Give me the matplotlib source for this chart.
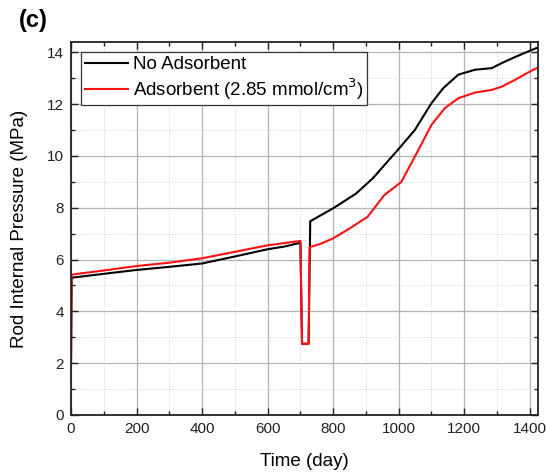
import matplotlib
matplotlib.use("Agg")
import matplotlib.pyplot as plt
from matplotlib.ticker import MultipleLocator

plt.rcParams["font.family"] = ["Liberation Sans", "DejaVu Sans"]

# time (day) and rod internal pressure (MPa)
days_no_ads = [0, 2, 100, 200, 300, 400, 500, 600, 650, 700, 705, 725, 730,
               800, 870, 921, 997, 1049, 1100, 1136, 1182, 1233, 1284, 1315,
               1355, 1396, 1427]
press_no_ads = [2.0, 5.30, 5.45, 5.60, 5.72, 5.85, 6.12, 6.40, 6.50, 6.65,
                2.75, 2.75, 7.48, 7.98, 8.55, 9.14, 10.23, 11.0, 12.04, 12.62,
                13.14, 13.33, 13.39, 13.59, 13.82, 14.04, 14.2]

days_ads = [0, 2, 100, 200, 300, 400, 500, 600, 700, 705, 725, 728, 760,
            800, 850, 905, 956, 1008, 1049, 1100, 1141, 1182, 1233, 1284,
            1315, 1355, 1396, 1427]
press_ads = [2.0, 5.42, 5.58, 5.75, 5.88, 6.05, 6.30, 6.55, 6.72, 2.75,
             2.75, 6.48, 6.60, 6.82, 7.20, 7.65, 8.49, 9.0, 9.97, 11.2,
             11.85, 12.23, 12.45, 12.55, 12.68, 12.94, 13.23, 13.43]

fig = plt.figure(figsize=(5.46, 4.72), dpi=100)
ax = fig.add_axes([71 / 546, 57 / 472, 467 / 546, 373 / 472])

ax.plot(days_no_ads, press_no_ads, color="black", lw=1.5, label="No Adsorbent")
ax.plot(days_ads, press_ads, color="#ff1010", lw=1.5,
        label="Adsorbent (2.85 mmol/cm$^3$)")

ax.set_xlim(0, 1425)
ax.set_ylim(0, 14.4)
ax.xaxis.set_major_locator(MultipleLocator(200))
ax.xaxis.set_minor_locator(MultipleLocator(100))
ax.yaxis.set_major_locator(MultipleLocator(2))
ax.yaxis.set_minor_locator(MultipleLocator(1))

ax.grid(which="major", color="#b4b4b4", lw=0.9, ls="-")
ax.grid(which="minor", color="#d2d2d2", lw=0.7, ls=":")
ax.set_axisbelow(True)

ax.tick_params(which="both", direction="in", top=True, right=True,
               labelsize=11, colors="#222222", width=1.0)
ax.tick_params(which="major", length=5, pad=5)
ax.tick_params(which="minor", length=3)
for sp in ax.spines.values():
    sp.set_linewidth(1.3)
    sp.set_color("#222222")

ax.set_xlabel("Time (day)", fontsize=13.5, labelpad=12)
ax.set_ylabel("Rod Internal Pressure (MPa)", fontsize=13.5, labelpad=14)

leg = ax.legend(loc="upper left", fontsize=13.5, handlelength=2.3,
                borderaxespad=0.55, fancybox=False, framealpha=1,
                edgecolor="#333333", borderpad=0.2, labelspacing=0.15,
                handletextpad=0.25)
leg.get_frame().set_linewidth(0.9)

fig.text(19 / 546, 1 - 21 / 472, "(c)", fontsize=17, fontweight="bold",
         va="center", ha="left")

fig.savefig("out.png", dpi=100)
